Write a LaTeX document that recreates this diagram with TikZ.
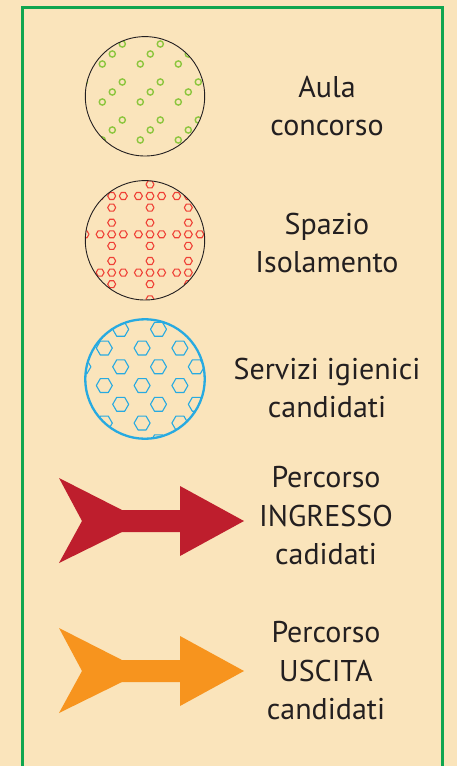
\documentclass[tikz,border=0pt]{standalone}
\usepackage{fontspec}
\setmainfont{PT Sans}
\definecolor{bgCream}{HTML}{FAE4BB}
\definecolor{frameGreen}{HTML}{0FA64F}
\definecolor{dotGreen}{HTML}{8DC63F}
\definecolor{hexRed}{HTML}{EF4136}
\definecolor{hexBlue}{HTML}{27AAE1}
\definecolor{arrRed}{HTML}{BE1E2D}
\definecolor{arrOrange}{HTML}{F7941E}
\definecolor{txtGrey}{HTML}{231F20}
\tikzset{
  % area symbols, pattern strokes and legend text
  areacirc/.style  = {circle, minimum size=119.4pt, inner sep=0pt},
  greendot/.style  = {draw=dotGreen, line width=1.4pt},
  redhex/.style    = {draw=hexRed, line width=1.1pt, line join=round},
  bluehex/.style   = {draw=hexBlue, line width=1.1pt, line join=round},
  legendtxt/.style = {font=\fontsize{30}{38.5}\selectfont, align=center, text=txtGrey},
}
\newcommand{\hexat}[3]{% centre x, centre y, radius
  \draw (#1,#2) +(0:#3) -- +(60:#3) -- +(120:#3) -- +(180:#3) -- +(240:#3) -- +(300:#3) -- cycle;}
\newcommand{\pathshape}{(0,0) -- (63,32) -- (121,32) -- (121,8) -- (185,43) -- (121,78)
  -- (121,54) -- (63,54) -- (0,85) -- (23,43) -- cycle}

\begin{document}
\begin{tikzpicture}[x=1pt, y=-1pt]
  \useasboundingbox (0,0) rectangle (457,766);
  \fill[bgCream] (0,0) rectangle (457,766);
  % open green frame
  \draw[draw=frameGreen, line width=3pt] (22,770) -- (22,7.7) -- (442.7,7.7) -- (442.7,770);

  % aula concorso
  \node[areacirc] (aula) at (145,96.3) {};
  \begin{scope}
    \clip (aula.center) circle[radius=59.7pt];
    \foreach \i in {-1,...,3}
      \foreach \j in {-1,...,3}
        \foreach \k in {0,1,2}
          \draw[greendot] ({102.3+38*\i+10*\k},{64+38*\j-10*\k}) circle[radius=3.1pt];
  \end{scope}
  \draw[draw=txtGrey, line width=0.9pt] (aula.center) circle[radius=59.7pt];
  \node[legendtxt] (aulaTxt) at (327,106) {Aula\\concorso};

  % spazio isolamento
  \node[areacirc] (isol) at (145,240.3) {};
  \begin{scope}[redhex]
    \clip (isol.center) circle[radius=59.7pt];
    \foreach \i in {-1,...,2}
      \foreach \j in {-1,...,3} {
        \pgfmathsetmacro\cx{111.7+38.3*\i}
        \pgfmathsetmacro\cy{196+38.3*\j}
        \hexat{\cx}{\cy}{4}
        \hexat{\cx+11.6}{\cy}{4}
        \hexat{\cx-11.6}{\cy}{4}
        \hexat{\cx}{\cy+11.6}{4}
        \hexat{\cx}{\cy-11.6}{4}
      }
  \end{scope}
  \draw[draw=txtGrey, line width=0.9pt] (isol.center) circle[radius=59.7pt];
  \node[legendtxt] (isolTxt) at (327,243) {Spazio\\Isolamento};

  % servizi igienici
  \node[areacirc] (serv) at (145,379) {};
  \begin{scope}[bluehex]
    \clip (serv.center) circle[radius=59.7pt];
    \foreach \r in {0,...,6} {
      \pgfmathsetmacro\rowx{ifthenelse(mod(\r,2)==0,120.7,104.3)}
      \foreach \k in {-1,...,3} {
        \hexat{\rowx+37.8*\k}{329.3+18.75*\r}{8}
      }
    }
  \end{scope}
  \draw[draw=hexBlue, line width=2.3pt] (serv.center) circle[radius=59.7pt];
  \node[legendtxt] (servTxt) at (327,388) {Servizi igienici\\candidati};

  % percorsi
  \fill[fill=arrRed, shift={(59,478)}] \pathshape;
  \node[legendtxt] (ingrTxt) at (326,516) {Percorso\\INGRESSO\\cadidati};
  \fill[fill=arrOrange, shift={(59,628)}] \pathshape;
  \node[legendtxt] (uscTxt) at (326,671) {Percorso\\USCITA\\candidati};
\end{tikzpicture}
\end{document}
